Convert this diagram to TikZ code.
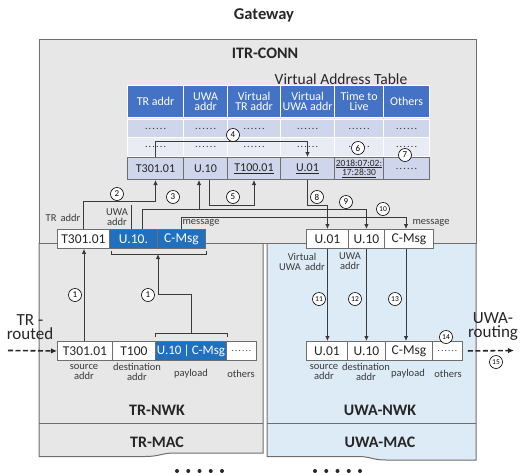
\documentclass[tikz,border=0pt]{standalone}
\usepackage{fontspec}
\setmainfont{Carlito}
\usetikzlibrary{arrows.meta}

\definecolor{grayBg}{HTML}{E7E7E7}
\definecolor{blueBg}{HTML}{DDEBF7}
\definecolor{hdrBlue}{HTML}{4472C4}
\definecolor{rowA}{HTML}{CFD5EA}
\definecolor{rowB}{HTML}{E9EBF5}
\definecolor{pktBlue}{HTML}{2170C0}
\definecolor{edgeGray}{HTML}{6E6E6E}
\definecolor{lineGray}{HTML}{3A3A3A}
\definecolor{txtDark}{HTML}{262626}

\newcommand\myfs[2]{\fontsize{#1}{#2}\selectfont}
\newcommand\dotrow{.\kern1.2pt.\kern1.2pt.\kern1.2pt.\kern1.2pt.\kern1.2pt.}

\begin{document}
\begin{tikzpicture}[x=1pt,y=-1pt,
  layerbox/.style={draw=edgeGray,line width=1pt},
  hdr/.style={draw=white,line width=1.2pt,fill=hdrBlue,text=white,anchor=north west,
    inner sep=0pt,minimum height=32,align=center,font=\myfs{12}{10.5}},
  rowa/.style={draw=white,line width=1.2pt,fill=rowA,anchor=north west,inner sep=0pt,
    minimum height=18,font=\myfs{10}{10},text=txtDark},
  rowb/.style={rowa,fill=rowB,minimum height=19},
  datacell/.style={draw=edgeGray,line width=1pt,fill=rowA,anchor=north west,inner sep=0pt,
    minimum height=22,align=center,font=\myfs{12}{12},text=txtDark},
  pkt/.style={draw=edgeGray,line width=0.9pt,fill=white,anchor=north west,inner sep=0pt,
    minimum height=19,font=\myfs{13.5}{13.5},text=txtDark},
  pktb/.style={pkt,fill=pktBlue,text=white},
  lbl/.style={align=center,inner sep=0pt,font=\myfs{10.5}{9.5},text=lineGray},
  title/.style={inner sep=0pt,font=\bfseries\myfs{16}{16},text=txtDark},
  big/.style={align=center,inner sep=0pt,font=\myfs{17}{14},text=txtDark},
  ln/.style={draw=lineGray,line width=0.8pt},
  arr/.style={ln,-{Latex[length=5pt,width=4.5pt]}},
  darr/.style={draw=txtDark,line width=1.6pt,dash pattern=on 5pt off 2.5pt,
    -{Latex[length=6pt,width=5.5pt]}},
  num/.style={circle,draw=black,fill=white,line width=0.6pt,minimum size=13,inner sep=0pt,
    font=\myfs{9}{9}},
  numw/.style={num,font=\myfs{7.5}{7.5}}
]
\useasboundingbox (0,0) rectangle (520,472);

% ---- layer boxes ----
\draw[layerbox,fill=grayBg] (39,243) -- (263,243) -- (263,453) -- (175,453)
  .. controls (161,453) and (160,456.5) .. (145,456.5) -- (39,456.5) -- cycle;
\draw[layerbox] (39,423) -- (263,423);
\draw[layerbox,fill=blueBg] (267,243) -- (476,243) -- (476,460) -- (386,460)
  .. controls (372,460) and (371,456.5) .. (358,456.5) -- (267,456.5) -- cycle;
\draw[layerbox] (267,423) -- (476,423);
\draw[layerbox,fill=grayBg] (39,39) rectangle (476,243);

\node[title,font=\bfseries\myfs{16.5}{16.5}] (gw) at (264,15) {Gateway};
\node[title] (itr) at (265,53) {ITR-CONN};
\node[title] (trnwk) at (157,410) {TR-NWK};
\node[title] (uwnwk) at (380,410) {UWA-NWK};
\node[title] (trmac) at (157,442) {TR-MAC};
\node[title] (uwmac) at (380,442) {UWA-MAC};

\foreach \x in {177,188.25,199.5,210.75,222,315,326.25,337.5,348.75,360}
  \fill[txtDark] (\x,471) circle (2);

% ---- virtual address table ----
\node[inner sep=0pt,font=\myfs{15.5}{15.5},text=txtDark] (vat) at (341,79) {Virtual Address Table};
\node[hdr,minimum width=56] (h1) at (127,85) {TR addr};
\node[hdr,minimum width=44] (h2) at (183,85) {UWA\\addr};
\node[hdr,minimum width=53] (h3) at (227,85) {Virtual\\TR addr};
\node[hdr,minimum width=54] (h4) at (280,85) {Virtual\\UWA addr};
\node[hdr,minimum width=49] (h5) at (334,85) {Time to\\Live};
\node[hdr,minimum width=46] (h6) at (383,85) {Others};
\foreach \x/\w/\n in {127/56/1,183/44/2,227/53/3,280/54/4,334/49/5,383/46/6}{
  \node[rowa,minimum width=\w] (ra\n) at (\x,119) {\dotrow};
  \node[rowb,minimum width=\w] (rb\n) at (\x,137) {\dotrow};
}
\node[datacell,minimum width=56] (tA) at (127,157) {T301.01};
\node[datacell,minimum width=44] (tU) at (183,157) {U.10};
\node[datacell,minimum width=53] (tV) at (227,157) {\underline{T100.01}};
\node[datacell,minimum width=54] (tD) at (280,157) {\underline{U.01}};
\node[datacell,minimum width=49,font=\myfs{9.5}{9.3}] (tT) at (334,157)
  {\underline{2018:07:02:}\\\underline{17:28:30}};
\node[datacell,minimum width=46,font=\myfs{10}{10}] (tO) at (383,157) {\dotrow};

% ---- TR side packet in ITR-CONN ----
\node[pkt,minimum width=52] (trA) at (57,229) {T301.01};
\node[pktb,minimum width=48] (trU) at (109,229) {U.10.};
\node[pktb,minimum width=48] (trC) at (157,229) {C-Msg};
\draw[layerbox] (39,243) -- (trA.west |- 0,243);
\draw[layerbox] (trC.east |- 0,243) -- (263,243);

% ---- UWA side packet in ITR-CONN ----
\node[pkt,minimum width=42] (uwA) at (306,229) {U.01};
\node[pkt,minimum width=36] (uwU) at (348,229) {U.10};
\node[pkt,minimum width=49] (uwC) at (384,229) {C-Msg};

% ---- TR-NWK packet ----
\node[pkt,minimum width=55] (ltA) at (57,341) {T301.01};
\node[pkt,minimum width=43] (ltB) at (112,341) {T100};
\node[pktb,minimum width=71,font=\myfs{13}{13}] (ltC) at (155,341) {U.10\,|\,C-Msg};
\node[pkt,minimum width=30,font=\myfs{9}{9}] (ltD) at (226,341) {\dotrow};

% ---- UWA-NWK packet ----
\node[pkt,minimum width=41] (luA) at (306,341) {U.01};
\node[pkt,minimum width=38] (luB) at (347,341) {U.10};
\node[pkt,minimum width=47] (luC) at (385,341) {C-Msg};
\node[pkt,minimum width=30,font=\myfs{9}{9}] (luD) at (432,341) {\dotrow};

% ---- field labels ----
\node[lbl] (lTRaddr) at (63,218) {TR\, addr};
\node[lbl] (lUWAaddr) at (117,217) {UWA\\addr};
\node[lbl] (lmsgL) at (201,223) {message};
\node[lbl] (lmsgR) at (431,223) {message};
\node[lbl] (lvuwa) at (302,262) {Virtual\\UWA\, addr};
\node[lbl] (luwa) at (350,261) {UWA\\addr};
\node[lbl] (ls1) at (84,372) {source\\addr};
\node[lbl] (ld1) at (137,372) {destination\\addr};
\node[lbl] (lp1) at (191,374) {payload};
\node[lbl] (lo1) at (241,374) {others};
\node[lbl] (ls2) at (324,372) {source\\addr};
\node[lbl] (ld2) at (366,372) {destination\\addr};
\node[lbl] (lp2) at (408,374) {payload};
\node[lbl] (lo2) at (448,374) {others};

\node[big] (trr) at (30,327) {TR -\\routed};
\node[big] (uwr) at (493,327) {UWA-\\routing};

% ---- brackets over the payload fields ----
\coordinate (bl) at (191,333);
\coordinate (bu) at (158,254);
\draw[ln] (ltC.north west |- 0,337) -- (ltC.north west |- 0,333) -- (ltC.north east |- 0,333) -- (ltC.north east |- 0,337);
\draw[ln] (111,250.5) -- (111,254) -- (trC.south east |- 0,254) -- (trC.south east |- 0,250.5);

% ---- connectors ----
\draw[arr] (ltA.north -| 84,0) -- (trA.south -| 84,0);
\draw[arr] (bl) -- (bl |- 0,294) -| (bu);
\draw[arr] (trA.north) |- (tA.south |- 0,201) -- (tA.south);
\draw[ln] (trU.north -| 131,0) -- (131,205);
\coordinate (k3) at (199,209);
\draw[arr] (trU.north -| 142,0) |- (uwU.north |- 0,209) -- (uwU.north);
\draw[arr] (k3) -- (k3 |- tU.south);
\draw[arr] (tA.north) |- (tD.north |- 0,141) -- (tD.north);
\draw[arr] (tU.south -| 209,0) |- (tV.south |- 0,205) -- (tV.south);
\draw[arr] (tD.south) |- (uwA.north |- 0,205) -- (uwA.north);
\draw[arr] (trC.north) |- (406,217) -- (uwC.north -| 406,0);
\draw[arr] (uwA.south) -- (luA.north -| uwA.south);
\draw[arr] (uwU.south) -- (luB.north -| uwU.south);
\draw[arr] (uwC.south -| 406,0) -- (luC.north -| 406,0);

\coordinate (inL) at (8,350.5);
\coordinate (outR) at (514,350.5);
\draw[darr] (inL) -- (ltA.west);
\draw[darr] ([xshift=5]luD.east) -- (outR);

% ---- step numbers ----
\node[num] (n1a) at (75,295) {1};
\node[num] (n1b) at (148,295) {1};
\node[num] (n2) at (117,194) {2};
\node[num] (n3) at (173,197) {3};
\node[num] (n4) at (233,135) {4};
\node[num] (n5) at (233,197) {5};
\node[num] (n6) at (358,148) {6};
\node[num] (n7) at (405,155) {7};
\node[num] (n8) at (317,197) {8};
\node[num] (n9) at (346,202) {9};
\node[numw] (n10) at (383,209) {10};
\node[numw] (n11) at (319,299) {11};
\node[numw] (n12) at (355,299) {12};
\node[numw] (n13) at (395,299) {13};
\node[numw] (n14) at (446,337) {14};
\node[numw] (n15) at (496,362) {15};
\end{tikzpicture}
\end{document}
